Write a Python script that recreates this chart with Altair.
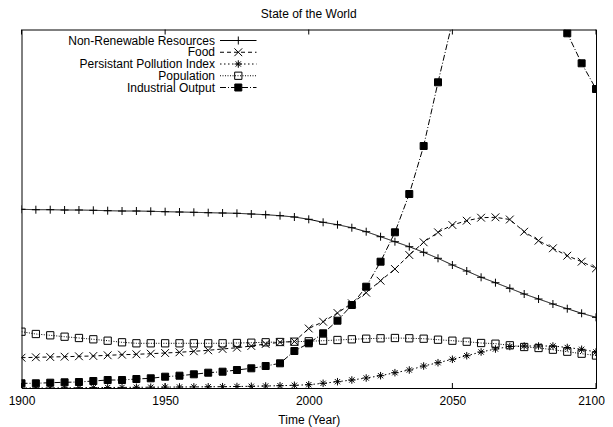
import altair as alt
import pandas as pd

years = list(range(1900, 2101, 5))
series_names = ["Non-Renewable Resources", "Food", "Persistant Pollution Index",
                "Population", "Industrial Output"]
chart_title = "State of the World"

resources = [178.7, 178.3, 178.3, 178.0, 178.0, 177.7, 177.3, 177.0, 177.0, 176.7,
             176.3, 176.0, 175.7, 175.3, 175.0, 174.7, 174.0, 173.3, 172.3, 171.0,
             168.7, 165.7, 163.3, 160.3, 156.3, 151.3, 146.3, 141.3, 135.7, 129.7,
             123.0, 117.0, 110.7, 105.3, 99.7, 94.0, 89.0, 84.0, 79.3, 74.7, 70.7]
food = [30.3, 30.7, 31.0, 31.3, 31.7, 32.0, 32.7, 33.3, 33.7, 34.3,
        35.0, 35.7, 36.7, 37.7, 39.0, 40.3, 42.0, 44.0, 45.7, 46.5,
        59.5, 66.3, 75.0, 84.7, 95.3, 107.3, 119.0, 133.0, 145.7, 155.7,
        163.0, 167.3, 170.3, 170.7, 168.5, 156.3, 147.3, 139.7, 132.3, 126.3, 119.7]
pollution = [0.0, 0.0, 0.0, 0.2, 0.3, 0.4, 0.5, 0.6, 0.7, 0.8,
             0.9, 1.0, 1.1, 1.2, 1.3, 1.5, 1.7, 2.0, 2.3, 2.7,
             3.3, 4.7, 6.3, 8.0, 10.0, 12.3, 15.3, 18.0, 22.0, 25.3,
             28.7, 32.3, 36.0, 39.0, 41.5, 42.0, 42.0, 42.0, 40.5, 38.7, 36.0]
population = [56.3, 54.0, 52.7, 51.3, 50.0, 48.7, 47.3, 45.7, 44.7, 44.7,
              44.7, 44.7, 44.7, 44.7, 44.7, 45.0, 45.3, 45.7, 46.0, 46.3,
              46.7, 47.3, 48.0, 48.7, 49.3, 49.7, 50.0, 49.7, 49.3, 48.3,
              47.3, 46.3, 45.0, 44.3, 42.7, 41.0, 40.0, 38.3, 36.3, 34.3, 32.5]
industrial = [4.7, 4.7, 5.3, 5.7, 6.0, 7.0, 8.0, 8.0, 9.0, 9.7,
              11.3, 12.3, 13.7, 15.3, 16.3, 18.0, 19.7, 22.0, 24.7, 37.0,
              44.7, 54.7, 67.3, 83.0, 101.3, 126.3, 155.7, 194.0, 242.0, 305.7,
              366.0, 390.0, 410.0, 420.0, 418.0, 405.0, 392.0, 378.0, 354.7, 324.7, 299.0]

x_ticks = [1900, 1950, 2000, 2050, 2100]

dashes = [[1, 0], [4, 3], [1.5, 2.5], [1, 1.5], [6, 2, 1, 2]]
shapes = ["M-1,0L1,0M0,-1L0,1",
          "M-1,-1L1,1M-1,1L1,-1",
          "M-1,0L1,0M0,-1L0,1M-0.7,-0.7L0.7,0.7M-0.7,0.7L0.7,-0.7",
          "square",
          "square"]
fills = ["transparent", "transparent", "transparent", "transparent", "black"]
sizes = [64, 49, 49, 45, 68]

PLOT_W = 574.5
PLOT_H = 358.5

rows = []
for name, vals in zip(series_names, [resources, food, pollution, population, industrial]):
    for yr, v in zip(years, vals):
        rows.append({"year": yr, "series": name, "value": v})
df = pd.DataFrame(rows)

dash_scale = alt.Scale(domain=series_names, range=dashes)
shape_scale = alt.Scale(domain=series_names, range=shapes)
fill_scale = alt.Scale(domain=series_names, range=fills)
size_scale = alt.Scale(domain=series_names, range=sizes)

# nudge only the last label a little so that it stays inside the page
last_label_offset = {"condition": {"test": "datum.value == 2100", "value": -5}, "value": 0}

x_enc = alt.X("year:Q",
              scale=alt.Scale(domain=[1900, 2100], nice=False, zero=False),
              axis=alt.Axis(values=x_ticks, format="d", title="Time (Year)", grid=False,
                            domain=False, ticks=False, tickSize=0, labelFlush=False,
                            labelOffset=last_label_offset,
                            labelPadding=7.5, titlePadding=8, labelFontSize=12,
                            titleFontSize=12, titleFontWeight="normal",
                            labelColor="black", titleColor="black"))
y_enc = alt.Y("value:Q", scale=alt.Scale(domain=[0, PLOT_H], nice=False, zero=False),
              axis=None)

base = alt.Chart(df)
lines = base.mark_line(clip=True, strokeWidth=1, color="black").encode(
    x=x_enc, y=y_enc,
    strokeDash=alt.StrokeDash("series:N", scale=dash_scale, legend=None),
    detail="series:N",
)
points = base.mark_point(clip=True, strokeWidth=1, stroke="black", opacity=1,
                         filled=False).encode(
    x=x_enc, y=y_enc,
    shape=alt.Shape("series:N", scale=shape_scale, legend=None),
    fill=alt.Fill("series:N", scale=fill_scale, legend=None),
    size=alt.Size("series:N", scale=size_scale, legend=None),
)

tick_df = pd.DataFrame({"year": x_ticks})
ticks_bottom = alt.Chart(tick_df).mark_rule(color="black", strokeWidth=1).encode(
    x=x_enc, y=alt.value(PLOT_H), y2=alt.value(PLOT_H - 5))
ticks_top = alt.Chart(tick_df).mark_rule(color="black", strokeWidth=1).encode(
    x=x_enc, y=alt.value(0), y2=alt.value(5))

leg_df = pd.DataFrame({"series": series_names})
leg_y = alt.Y("series:N", sort=series_names,
              scale=alt.Scale(type="point", domain=series_names, range=[11, 58], padding=0),
              axis=None)
leg_text = alt.Chart(leg_df).mark_text(align="right", baseline="middle", fontSize=12,
                                       color="black").encode(
    text="series:N", x=alt.value(193.5), y=leg_y)
leg_rule = alt.Chart(leg_df).mark_rule(strokeWidth=1, color="black").encode(
    x=alt.value(198.5), x2=alt.value(235), y=leg_y,
    strokeDash=alt.StrokeDash("series:N", scale=dash_scale, legend=None))
leg_pts = alt.Chart(leg_df).mark_point(strokeWidth=1, stroke="black", opacity=1,
                                       filled=False).encode(
    x=alt.value(216.8), y=leg_y,
    shape=alt.Shape("series:N", scale=shape_scale, legend=None),
    fill=alt.Fill("series:N", scale=fill_scale, legend=None),
    size=alt.Size("series:N", scale=size_scale, legend=None),
)

title_df = pd.DataFrame({"t": [chart_title]})
title_mark = alt.Chart(title_df).mark_text(align="center", baseline="alphabetic",
                                           fontSize=12, color="black").encode(
    text="t:N", x=alt.value(PLOT_W / 2), y=alt.value(-11.5))

chart = alt.layer(lines, points, ticks_bottom, ticks_top, leg_rule, leg_pts, leg_text,
                  title_mark).resolve_scale(
    y="independent"
).properties(
    width=PLOT_W, height=PLOT_H,
    autosize=alt.AutoSizeParams(type="none"),
    padding={"left": 13.5, "top": 21.5, "right": 9, "bottom": 40},
).configure(font="Liberation Sans").configure_view(stroke="black", strokeWidth=1)

chart.save("out.html", embed_options={"renderer": "svg", "actions": False})
